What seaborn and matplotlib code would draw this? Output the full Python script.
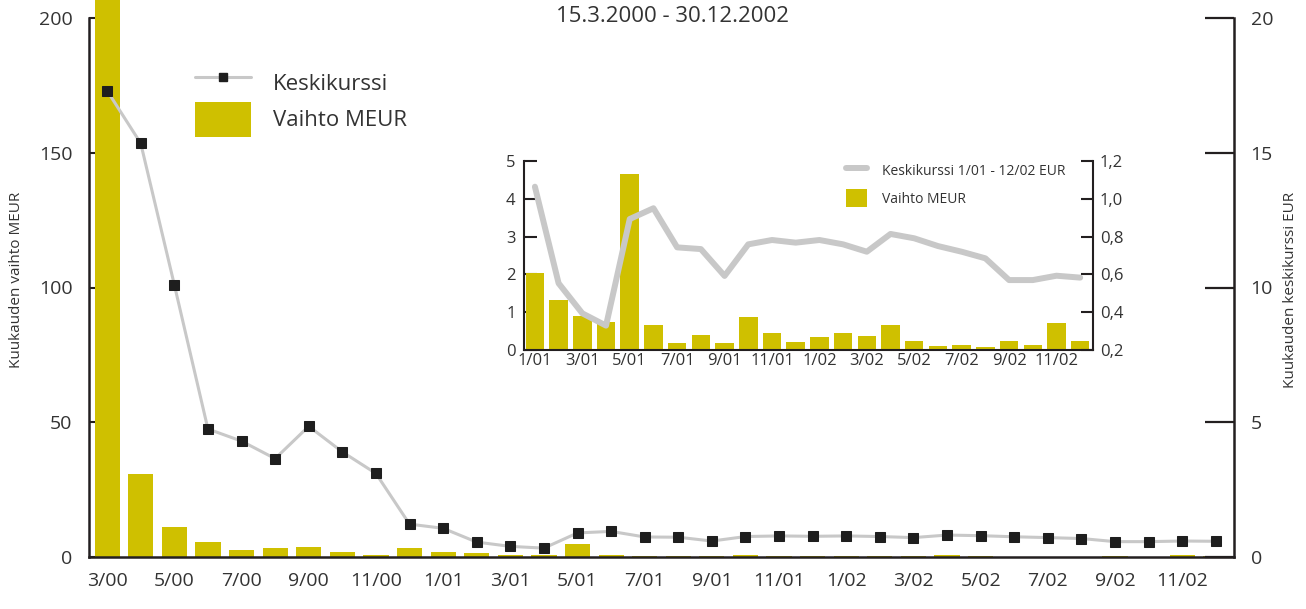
import matplotlib
matplotlib.use("Agg")
import matplotlib.pyplot as plt
from matplotlib.ticker import FuncFormatter, FixedLocator
from matplotlib.lines import Line2D
from matplotlib.patches import Patch
import seaborn as sns
import pandas as pd
import numpy as np

# ---------------- data ----------------
months = ["3/00", "4/00", "5/00", "6/00", "7/00", "8/00", "9/00", "10/00", "11/00", "12/00",
          "1/01", "2/01", "3/01", "4/01", "5/01", "6/01", "7/01", "8/01", "9/01", "10/01", "11/01", "12/01",
          "1/02", "2/02", "3/02", "4/02", "5/02", "6/02", "7/02", "8/02", "9/02", "10/02", "11/02", "12/02"]
volume_2000 = [250.0, 30.8, 11.1, 5.6, 2.6, 3.3, 3.8, 1.9, 0.9, 3.3]
price_2000 = [17.3, 15.35, 10.1, 4.75, 4.3, 3.65, 4.85, 3.9, 3.1, 1.22]
volume_0102 = [2.04, 1.32, 0.91, 0.74, 4.66, 0.67, 0.19, 0.41, 0.19, 0.88, 0.46, 0.22,
               0.34, 0.45, 0.37, 0.67, 0.24, 0.11, 0.13, 0.08, 0.24, 0.13, 0.71, 0.24]
price_0102 = [1.064, 0.553, 0.394, 0.329, 0.893, 0.950, 0.743, 0.734, 0.592, 0.759, 0.782, 0.768,
              0.782, 0.759, 0.720, 0.814, 0.791, 0.750, 0.720, 0.685, 0.570, 0.570, 0.593, 0.583]
main_ticklabels = months[::2]
inset_ticklabels = months[10::2]

title = "15.3.2000 - 30.12.2002"
left_label = "Kuukauden vaihto MEUR"
right_label = "Kuukauden keskikurssi EUR"

# ---------------- style ----------------
BAR = "#cfc000"
LINE = "#c8c8c8"
DARK = "#231f20"
TXT = "#333333"

sns.set_theme(style="white")
plt.rcParams["font.family"] = ["Open Sans", "DejaVu Sans"]
plt.rcParams["text.color"] = TXT
plt.rcParams["xtick.color"] = DARK
plt.rcParams["ytick.color"] = DARK
plt.rcParams["xtick.labelcolor"] = TXT
plt.rcParams["ytick.labelcolor"] = TXT

W, H = 1306, 609
fig = plt.figure(figsize=(W / 100, H / 100), dpi=100)

main_df = pd.DataFrame({
    "idx": np.arange(len(months)),
    "month": months,
    "vol": volume_2000 + volume_0102,
    "price": price_2000 + price_0102,
})
inset_df = main_df.iloc[10:].reset_index(drop=True).copy()
inset_df["idx"] = np.arange(len(inset_df))

# ---------------- main axes ----------------
ax = fig.add_axes([89 / W, 1 - 557 / H, 1145 / W, 539 / H])
sns.barplot(data=main_df, x="idx", y="vol", color=BAR, width=0.75, saturation=1,
            ax=ax, zorder=2)
for p in ax.patches:
    p.set_edgecolor("none")
ax.patches[0].set_clip_on(False)
ax.set_xlim(-0.54, len(months) - 0.46)
ax.set_ylim(0, 200)
ax.set_yticks([0, 50, 100, 150, 200])
ax.set_xticks(np.arange(0, len(months), 2))
ax.set_xticklabels(main_ticklabels)
ax.set_xlabel("")
ax.set_ylabel("")
for s in ["top", "right"]:
    ax.spines[s].set_visible(False)
for s in ["left", "bottom"]:
    ax.spines[s].set_color(DARK)
    ax.spines[s].set_linewidth(1.8)
ax.tick_params(axis="y", direction="in", length=4, width=1.5, pad=12, labelsize=14)
ax.tick_params(axis="x", length=0, pad=11, labelsize=14)
ax.set_facecolor("none")

ax2 = ax.twinx()
sns.lineplot(data=main_df, x="idx", y="price", color=LINE, linewidth=2.2, marker="s",
             markersize=7.5, markerfacecolor="#1e1e1e", markeredgecolor="#1e1e1e",
             ax=ax2, zorder=3, legend=False)
ax2.set_ylim(0, 20)
ax2.set_yticks([0, 5, 10, 15, 20])
ax2.set_xlim(ax.get_xlim())
ax2.set_xlabel("")
ax2.set_ylabel("")
for s in ["top", "left", "bottom"]:
    ax2.spines[s].set_visible(False)
ax2.spines["right"].set_color(DARK)
ax2.spines["right"].set_linewidth(1.8)
ax2.tick_params(axis="y", direction="in", length=21, width=1.6, pad=12, labelsize=14)

# main legend
handles = [Line2D([0], [0], color=LINE, linewidth=2.2, marker="s", markersize=6,
                  markerfacecolor="#1e1e1e", markeredgecolor="#1e1e1e"),
           Patch(facecolor=BAR, edgecolor="none")]
fig.legend(handles, ["Keskikurssi", "Vaihto MEUR"], loc="upper left",
           bbox_to_anchor=(195 / W, 1 - 65 / H), frameon=False, fontsize=16,
           handlelength=2.5, handleheight=2.05, handletextpad=1.0, labelspacing=0.07,
           borderpad=0, borderaxespad=0)

fig.text(672 / W, 1 - 17 / H, title, ha="center", va="center", fontsize=16)
fig.text(17 / W, 1 - 280 / H, left_label, rotation=90, ha="center", va="center", fontsize=11)
fig.text(1291 / W, 1 - 290 / H, right_label, rotation=90, ha="center", va="center", fontsize=11)

# ---------------- inset ----------------
axi = fig.add_axes([524 / W, 1 - 350 / H, 569 / W, 189 / H])
axi.set_facecolor("white")
sns.barplot(data=inset_df, x="idx", y="vol", color=BAR, width=0.78, saturation=1,
            ax=axi, zorder=2)
for p in axi.patches:
    p.set_edgecolor("none")
axi.set_xlim(-0.46, len(inset_df) - 0.46)
axi.set_ylim(0, 5)
axi.set_yticks([0, 1, 2, 3, 4, 5])
axi.set_xticks(np.arange(0, len(inset_df), 2))
axi.set_xticklabels(inset_ticklabels)
axi.set_xlabel("")
axi.set_ylabel("")
for s in ["top", "right"]:
    axi.spines[s].set_visible(False)
for s in ["left", "bottom"]:
    axi.spines[s].set_color(DARK)
    axi.spines[s].set_linewidth(1.5)
axi.tick_params(axis="y", direction="in", length=9, width=1.5, pad=6, labelsize=12)
axi.tick_params(axis="x", length=0, pad=2, labelsize=12)

axi2 = axi.twinx()
sns.lineplot(data=inset_df, x="idx", y="price", color=LINE, linewidth=4.3,
             ax=axi2, zorder=3, legend=False)
axi2.set_ylim(0.2, 1.2)
axi2.yaxis.set_major_locator(FixedLocator([0.2, 0.4, 0.6, 0.8, 1.0, 1.2]))
axi2.yaxis.set_major_formatter(FuncFormatter(lambda v, p: f"{v:.1f}".replace(".", ",")))
axi2.set_xlim(axi.get_xlim())
axi2.set_xlabel("")
axi2.set_ylabel("")
for s in ["top", "left", "bottom"]:
    axi2.spines[s].set_visible(False)
axi2.spines["right"].set_color(DARK)
axi2.spines["right"].set_linewidth(1.5)
axi2.tick_params(axis="y", direction="in", length=9, width=1.5, pad=5, labelsize=12)

ih = [Line2D([0], [0], color=LINE, linewidth=4.3, solid_capstyle="round"),
      Patch(facecolor=BAR, edgecolor="none")]
fig.legend(ih, ["Keskikurssi 1/01 - 12/02 EUR", "Vaihto MEUR"], loc="upper left",
           bbox_to_anchor=(846 / W, 1 - 161 / H), frameon=False, fontsize=10,
           handlelength=1.5, handleheight=1.615, handletextpad=1.08, labelspacing=0.75,
           borderpad=0, borderaxespad=0)

fig.savefig("out.png", dpi=100)
